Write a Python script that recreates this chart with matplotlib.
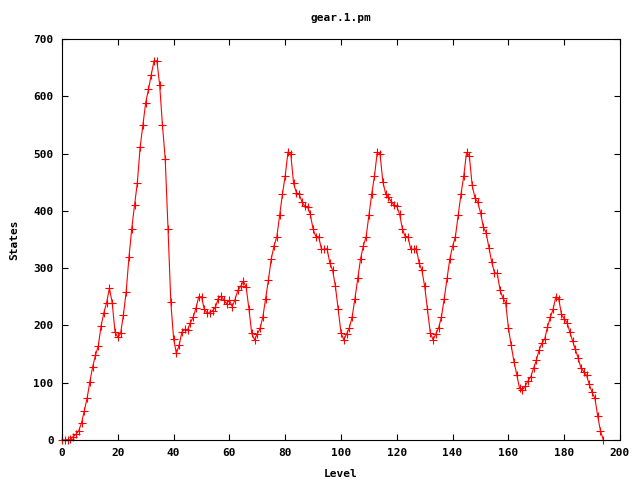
import matplotlib
matplotlib.use("Agg")
import matplotlib.pyplot as plt
import numpy as np

# states per level
levels = np.arange(0, 195)
states = [
    0, 0, 0, 1, 6, 10, 16, 30, 51, 73,
    102, 128, 148, 164, 199, 222, 240, 265, 239, 189,
    179, 186, 218, 259, 319, 369, 410, 449, 511, 550,
    589, 612, 638, 662, 662, 620, 550, 490, 369, 241,
    177, 151, 166, 189, 193, 192, 205, 214, 230, 250,
    250, 228, 222, 222, 226, 232, 247, 251, 245, 238,
    244, 233, 245, 261, 268, 277, 267, 229, 186, 175,
    185, 195, 215, 247, 280, 316, 339, 355, 392, 429,
    461, 503, 499, 448, 432, 429, 416, 408, 407, 394,
    368, 355, 355, 333, 333, 334, 309, 296, 268, 228,
    187, 175, 185, 196, 215, 247, 282, 316, 339, 355,
    392, 429, 461, 503, 499, 451, 430, 424, 416, 410,
    408, 394, 369, 355, 355, 333, 333, 334, 309, 296,
    268, 228, 187, 175, 185, 196, 215, 247, 282, 316,
    338, 355, 392, 429, 461, 502, 496, 445, 423, 415,
    397, 372, 362, 336, 311, 292, 291, 262, 248, 240,
    196, 165, 137, 114, 90, 88, 94, 103, 110, 125,
    139, 157, 169, 176, 197, 214, 228, 250, 247, 220,
    211, 205, 189, 173, 158, 143, 126, 119, 113, 97,
    83, 73, 42, 16, 0,
]

title = "gear.1.pm"
xlabel = "Level"
ylabel = "States"
xticks = np.arange(0, 201, 20)
yticks = np.arange(0, 701, 100)

plt.rcParams['font.family'] = ['DejaVu Sans Mono']
plt.rcParams['font.weight'] = 'bold'
plt.rcParams['font.size'] = 8

fig = plt.figure(figsize=(6.4, 4.8), dpi=100)
ax = fig.add_axes([62/640, 40/480, 558/640, 401/480])

ax.plot(levels, states, color='#ff0000', linewidth=0.8,
        marker='+', markersize=6, markeredgewidth=0.8, clip_on=False)

ax.set_xlim(0, 200)
ax.set_ylim(0, 700)
ax.set_xticks(xticks)
ax.set_yticks(yticks)
ax.tick_params(direction='in', length=4, width=0.8, top=True, right=True,
               labelsize=8, pad=6)
for s in ax.spines.values():
    s.set_linewidth(0.8)

ax.set_title(title, fontsize=8, fontweight='bold', pad=13)
ax.set_xlabel(xlabel, fontsize=8, fontweight='bold', labelpad=8)
ax.set_ylabel(ylabel, fontsize=8, fontweight='bold', labelpad=10)

plt.savefig('out.png', dpi=100)
